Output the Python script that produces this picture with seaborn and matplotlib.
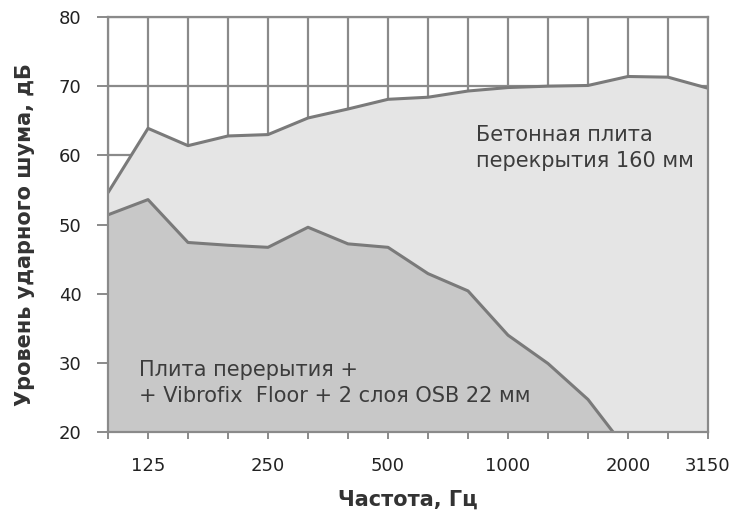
import matplotlib
matplotlib.use("Agg")
import matplotlib.pyplot as plt
import seaborn as sns
import numpy as np
import pandas as pd

freqs = ["100", "125", "160", "200", "250", "315", "400", "500", "630", "800",
         "1000", "1250", "1600", "2000", "2500", "3150"]
concrete = [54.6, 63.9, 61.4, 62.8, 63.0, 65.4, 66.7, 68.1, 68.4, 69.3,
            69.8, 70.0, 70.1, 71.4, 71.3, 69.7]
vibrofix = [51.4, 53.6, 47.4, 47.0, 46.7, 49.6, 47.2, 46.7, 42.9, 40.4,
            34.0, 29.9, 24.7, 17.2, 15.0, 14.0]
shown_labels = ["125", "250", "500", "1000", "2000", "3150"]

sns.set_theme(style="white")
plt.rcParams['font.family'] = ['DejaVu Sans']

df = pd.DataFrame({"pos": np.arange(len(freqs)), "freq": freqs,
                   "concrete": concrete, "vibrofix": vibrofix})

fig = plt.figure(figsize=(7.34, 5.16), dpi=100)
ax = fig.add_axes([108/734, 1-432/516, 600/734, 415/516])

line_c = "#7a7a7a"
grid_c = "#8a8a8a"

ax.fill_between(df["pos"], 0, df["concrete"], color="#e5e5e5", zorder=2, linewidth=0)
ax.fill_between(df["pos"], 0, df["vibrofix"], color="#c8c8c8", zorder=3, linewidth=0)
sns.lineplot(data=df, x="pos", y="concrete", color=line_c, linewidth=2.2, ax=ax, zorder=4)
sns.lineplot(data=df, x="pos", y="vibrofix", color=line_c, linewidth=2.2, ax=ax, zorder=4)

ax.set_xlim(0, len(freqs) - 1)
ax.set_ylim(20, 80)
ax.set_yticks(range(20, 81, 10))
ax.set_xticks(df["pos"])
ax.set_xticklabels([f if f in shown_labels else "" for f in freqs])

ax.grid(True, color=grid_c, linewidth=1.6, zorder=0)
ax.set_axisbelow(True)
for s in ax.spines.values():
    s.set_color(grid_c)
    s.set_linewidth(1.6)
    s.set_zorder(5)

ax.tick_params(axis="y", which="both", left=True, length=8, width=1.4, color=grid_c,
               labelsize=13, pad=11, labelcolor="#222222")
ax.tick_params(axis="x", which="both", bottom=True, length=5, width=1.4, color=grid_c,
               labelsize=13, pad=13, labelcolor="#222222")

ax.set_xlabel("Частота, Гц", fontsize=15, fontweight="bold", color="#333333", va="center")
ax.xaxis.set_label_coords(0.5, (432 - 500) / 415)
ax.set_ylabel("Уровень ударного шума, дБ", fontsize=15, fontweight="bold", color="#333333",
              va="center")
ax.yaxis.set_label_coords((25 - 108) / 600, 0.476)

ax.text(9.2, 61.1, "Бетонная плита\nперекрытия 160 мм", fontsize=15, color="#3c3c3c",
        va="center", ha="left", zorder=6, linespacing=1.4)
ax.text(0.78, 27.1, "Плита перерытия +\n+ Vibrofix  Floor + 2 слоя OSB 22 мм", fontsize=15,
        color="#3c3c3c", va="center", ha="left", zorder=6, linespacing=1.4)

fig.savefig("out.png", dpi=100)
